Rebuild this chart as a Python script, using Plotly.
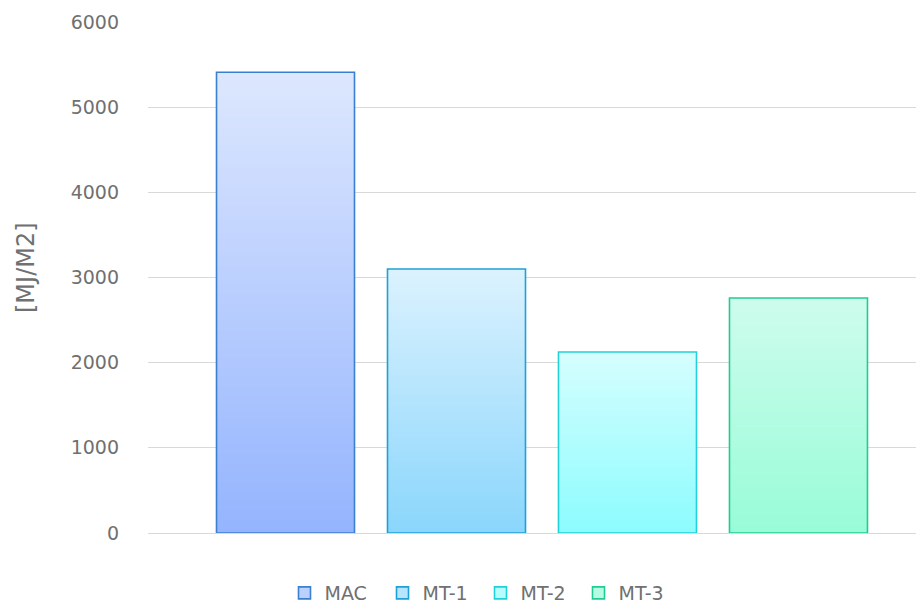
import plotly.graph_objects as go

series = ["MAC", "MT-1", "MT-2", "MT-3"]
values = [5410, 3100, 2125, 2760]
bottom_colors = ["#94b4fe", "#8ad6fc", "#8cfcfe", "#98fcd8"]
top_colors = ["#dde7fe", "#dcf2fe", "#d6fefe", "#cefced"]
line_colors = ["#3a7fd0", "#1fa0d8", "#22d0d8", "#22cc90"]
y_ticks = [0, 1000, 2000, 3000, 4000, 5000, 6000]
y_title = "[MJ/M2]"

N = 100
TXT = "#707070"
FONT = "DejaVu Sans, Verdana, sans-serif"


def hex2rgb(h):
    h = h.lstrip("#")
    return tuple(int(h[i:i + 2], 16) for i in (0, 2, 4))


def mix(c1, c2, t):
    a, b = hex2rgb(c1), hex2rgb(c2)
    return "rgb(%d,%d,%d)" % tuple(round(a[k] + (b[k] - a[k]) * t) for k in range(3))


fig = go.Figure()
for name, v, cb, ct, lc in zip(series, values, bottom_colors, top_colors, line_colors):
    bases = [v * i / N for i in range(N)]
    # gradient: each slice runs from its base to the top, later ones drawn over earlier
    fig.add_trace(go.Bar(
        x=[0] * N,
        y=[v - b for b in bases],
        base=bases,
        marker=dict(color=[mix(cb, ct, (i + 0.5) / N) for i in range(N)], line=dict(width=0)),
        offsetgroup=name, showlegend=False, hoverinfo="skip",
    ))
    # outline
    fig.add_trace(go.Bar(
        x=[0], y=[v], name=name,
        marker=dict(color="rgba(0,0,0,0)", line=dict(color=lc, width=1.6)),
        offsetgroup=name, showlegend=False,
    ))
    # legend entry
    fig.add_trace(go.Bar(
        x=[0], y=[None], name=name,
        marker=dict(color=mix(cb, ct, 0.55), line=dict(color=lc, width=1.6)),
        offsetgroup=name, showlegend=True,
    ))

fig.update_layout(
    width=916, height=604,
    margin=dict(l=140, r=0, t=14, b=79),
    paper_bgcolor="white", plot_bgcolor="white",
    barmode="group", bargap=0.132, bargroupgap=0.193,
    font=dict(family=FONT, color=TXT, size=19),
    legend=dict(orientation="h", x=(304.5 - 20 - 148) / 776, xanchor="left",
                yref="container", y=0, yanchor="bottom",
                entrywidth=53, entrywidthmode="pixels",
                font=dict(size=19, color=TXT, family=FONT)),
    showlegend=True,
    annotations=[dict(text=y_title, textangle=-90, showarrow=False,
                      xref="paper", yref="paper",
                      x=(26 - 148) / 776, y=(533 - 268) / 511,
                      xanchor="center", yanchor="middle",
                      font=dict(size=24, color=TXT, family=FONT))],
)
fig.update_xaxes(range=[-0.5, 0.4848], showticklabels=False, showgrid=False,
                 zeroline=False, showline=False, fixedrange=True)
fig.update_yaxes(range=[0, 6000], tickvals=y_ticks, showgrid=True, gridcolor="#d9d9d9",
                 gridwidth=1, zeroline=True, zerolinecolor="#d9d9d9", zerolinewidth=1,
                 showline=False, ticks="", ticklabelstandoff=28,
                 tickfont=dict(size=19, color=TXT, family=FONT))

fig.write_html("out.html")
